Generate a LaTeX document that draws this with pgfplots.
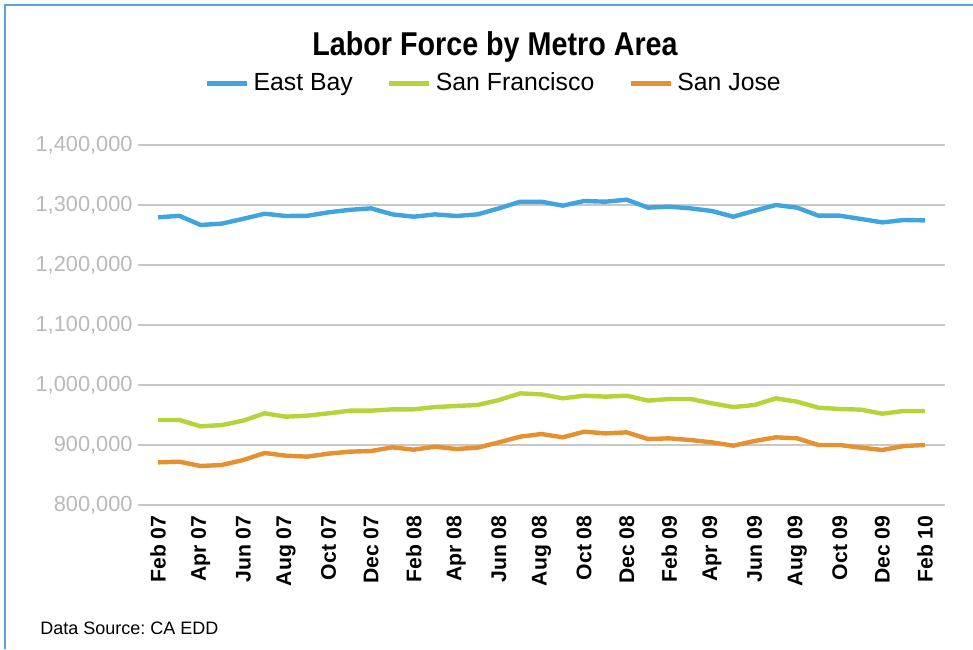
\documentclass[border=0pt]{standalone}
\usepackage{fontspec}
\setmainfont{Liberation Sans}
\newfontfamily\titlefont[FakeStretch=0.87]{Liberation Sans}
\usepackage{pgfplots}
\pgfplotsset{compat=1.18}
\definecolor{eb}{RGB}{64,165,222}
\definecolor{sf}{RGB}{181,212,58}
\definecolor{sj}{RGB}{229,145,47}
\definecolor{gridc}{RGB}{200,200,200}
\definecolor{tickc}{RGB}{185,185,185}
\definecolor{framec}{RGB}{90,165,225}
\frenchspacing
\begin{document}
\begin{tikzpicture}
\useasboundingbox (0,0) rectangle (486.5pt,324.5pt);
\draw[framec, line width=1pt] (2.5pt,0) -- (2.5pt,322pt) -- (486.5pt,322pt);
\begin{axis}[
  at={(69pt,72pt)}, anchor=south west, scale only axis,
  width=403.5pt, height=180pt,
  xmin=-0.94, xmax=36.94, ymin=800000, ymax=1400000,
  axis line style={draw=none}, tick style={draw=none},
  ytick={800000,900000,1000000,1100000,1200000,1300000,1400000},
  ymajorgrids, grid style={gridc, line width=0.8pt},
  scaled y ticks=false,
  /pgf/number format/.cd, fixed, 1000 sep={,}, assume math mode=true,
  /pgfplots/.cd,
  y tick label style={font=\fontsize{10.9}{13}\selectfont, text=tickc, inner sep=0pt, xshift=-2.5pt},
  xtick={0,2,...,36},
  xticklabels={Feb 07,Apr 07,Jun 07,Aug 07,Oct 07,Dec 07,Feb 08,Apr 08,Jun 08,Aug 08,Oct 08,Dec 08,Feb 09,Apr 09,Jun 09,Aug 09,Oct 09,Dec 09,Feb 10},
  x tick label style={yshift=-5pt, rotate=90, anchor=east, font=\fontsize{10.6}{12}\selectfont\bfseries, inner sep=0pt},
  legend columns=3,
  legend style={at={(0.442,1.172)}, anchor=center, draw=none, fill=none,
    font=\fontsize{12.4}{14}\selectfont,
    /tikz/every even column/.append style={column sep=15pt}},
  legend image code/.code={\draw[#1, line width=2.5pt] (0pt,0pt) -- (20pt,0pt);},
  every axis plot/.append style={line width=2.2pt, line join=round},
]
\addplot[eb] coordinates {(0,1279500)(1,1282000)(2,1266700)(3,1269000)(4,1277000)(5,1285500)(6,1281700)(7,1282000)(8,1287800)(9,1292000)(10,1294400)(11,1284400)(12,1280500)(13,1284400)(14,1281700)(15,1284400)(16,1294400)(17,1305500)(18,1305500)(19,1298900)(20,1306700)(21,1305500)(22,1308900)(23,1295600)(24,1297200)(25,1294400)(26,1290000)(27,1280500)(28,1290500)(29,1300000)(30,1295600)(31,1282200)(32,1282200)(33,1276700)(34,1271000)(35,1275000)(36,1274400)};
\addlegendentry{East Bay}
\addplot[sf] coordinates {(0,941700)(1,941700)(2,931100)(3,933300)(4,940600)(5,952800)(6,947200)(7,948900)(8,952800)(9,957200)(10,957200)(11,959400)(12,959400)(13,963300)(14,965000)(15,966700)(16,975000)(17,986100)(18,984400)(19,977800)(20,982200)(21,980600)(22,982200)(23,973900)(24,976700)(25,976700)(26,969400)(27,963300)(28,966700)(29,977800)(30,972200)(31,962200)(32,960000)(33,958900)(34,952200)(35,956700)(36,956700)};
\addlegendentry{San Francisco}
\addplot[sj] coordinates {(0,871100)(1,872200)(2,865000)(3,866700)(4,875000)(5,886700)(6,882200)(7,880600)(8,885600)(9,888900)(10,890000)(11,896100)(12,892200)(13,897200)(14,893300)(15,895600)(16,904400)(17,913900)(18,918300)(19,912800)(20,922200)(21,919400)(22,921100)(23,910000)(24,911100)(25,908300)(26,904400)(27,898900)(28,906700)(29,912800)(30,911100)(31,900000)(32,900000)(33,895600)(34,891700)(35,898300)(36,900000)};
\addlegendentry{San Jose}
\end{axis}
\node[font=\titlefont\fontsize{16.5}{20}\selectfont\bfseries] at (247.5pt,301pt) {Labor Force by Metro Area};
\node[anchor=west, font=\fontsize{9}{11}\selectfont, inner sep=0pt] at (20pt,10.5pt) {Data Source: CA EDD};
\end{tikzpicture}
\end{document}
